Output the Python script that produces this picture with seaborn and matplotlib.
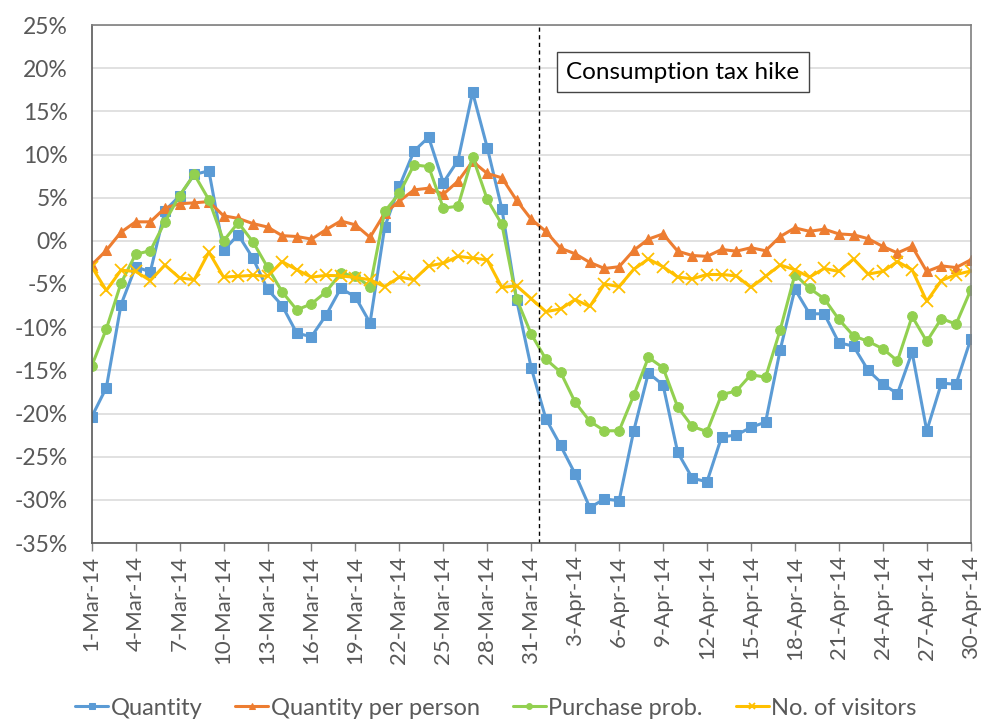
import numpy as np
import pandas as pd
import matplotlib
matplotlib.use("Agg")
import matplotlib.pyplot as plt
import seaborn as sns

# ---- data -------------------------------------------------------------
dates = pd.date_range("2014-03-01", "2014-04-30", freq="D")
date_labels = [f"{d.day}-{d.strftime('%b')}-14" for d in dates]

quantity = [-20.4, -17.0, -7.4, -3.0, -3.6, 3.5, 5.2, 7.7, 8.1, -1.1,
            0.7, -2.0, -5.6, -7.5, -10.7, -11.1, -8.6, -5.5, -6.5, -9.5,
            1.6, 6.3, 10.4, 12.0, 6.75, 9.3, 17.2, 10.8, 3.7, -6.8,
            -14.7, -20.6, -23.7, -27.0, -30.9, -29.9, -30.1, -22.0, -15.3, -16.7,
            -24.5, -27.5, -27.9, -22.7, -22.5, -21.6, -21.0, -12.6, -5.6, -8.45,
            -8.45, -11.8, -12.2, -15.0, -16.6, -17.7, -12.9, -22.0, -16.5, -16.6,
            -11.4]
qty_per_person = [-2.8, -1.1, 1.0, 2.2, 2.2, 3.8, 4.3, 4.4, 4.55, 2.9,
                  2.6, 2.0, 1.6, 0.6, 0.5, 0.2, 1.3, 2.3, 1.85, 0.4,
                  3.2, 4.6, 5.9, 6.1, 5.4, 6.9, 9.2, 7.8, 7.3, 4.7,
                  2.5, 1.1, -0.85, -1.5, -2.5, -3.2, -3.0, -1.1, 0.2, 0.8,
                  -1.2, -1.7, -1.8, -1.0, -1.2, -0.8, -1.15, 0.5, 1.5, 1.1,
                  1.35, 0.8, 0.7, 0.25, -0.65, -1.4, -0.65, -3.55, -2.9, -3.1,
                  -2.2]
purchase_prob = [-14.5, -10.2, -4.9, -1.55, -1.15, 2.2, 5.25, 7.7, 4.75, 0.0,
                 2.1, -0.1, -3.05, -5.9, -8.0, -7.3, -5.9, -3.75, -4.1, -5.3,
                 3.4, 5.5, 8.8, 8.6, 3.8, 4.0, 9.75, 4.8, 1.9, -6.7,
                 -10.8, -13.7, -15.2, -18.7, -20.9, -22.0, -22.0, -17.9, -13.5, -14.7,
                 -19.25, -21.5, -22.1, -17.8, -17.4, -15.5, -15.8, -10.3, -3.9, -5.5,
                 -6.7, -9.1, -11.0, -11.65, -12.5, -13.9, -8.75, -11.65, -9.0, -9.65,
                 -5.7]
visitors = [-3.0, -5.75, -3.4, -3.55, -4.6, -2.8, -4.3, -4.5, -1.3, -4.2,
            -4.1, -4.0, -4.1, -2.4, -3.35, -4.2, -4.0, -4.05, -4.25, -4.5,
            -5.3, -4.2, -4.5, -2.9, -2.6, -1.8, -2.0, -2.2, -5.4, -5.2,
            -6.7, -8.2, -7.9, -6.8, -7.6, -5.0, -5.3, -3.3, -2.1, -3.0,
            -4.2, -4.4, -3.9, -3.9, -4.05, -5.4, -4.1, -2.8, -3.35, -4.2,
            -3.2, -3.55, -2.1, -3.85, -3.55, -2.4, -3.35, -7.0, -4.6, -3.9,
            -3.5]

series_names = ["Quantity", "Quantity per person", "Purchase prob.", "No. of visitors"]
series_values = [quantity, qty_per_person, purchase_prob, visitors]
series_colors = ["#5B9BD5", "#ED7D31", "#92D050", "#FFC000"]
series_markers = ["s", "^", "o", "x"]

y_ticks = list(range(-35, 26, 5))
annotation = "Consumption tax hike"
event_index = 30.5  # between 31-Mar and 1-Apr

# ---- plot -------------------------------------------------------------
sns.set_theme(style="white")
plt.rcParams["font.family"] = ["Lato", "DejaVu Sans"]

fig = plt.figure(figsize=(9.82, 7.21), dpi=100)
ax = fig.add_axes([91.7 / 982, 1 - 543 / 721, (970.7 - 91.7) / 982, (543 - 25) / 721])

day_idx = np.arange(len(dates))
for name, vals, col, mk in zip(series_names, series_values, series_colors, series_markers):
    kw = dict(marker=mk, markersize=7, markeredgecolor=col, markerfacecolor=col)
    if mk == "x":
        kw.update(markersize=8, markeredgewidth=1.3)
    sns.lineplot(x=day_idx, y=vals, ax=ax, color=col, linewidth=2.2, label=name,
                 legend=False, **kw)

ax.set_xlim(0, len(dates) - 1)
ax.set_ylim(-35, 25)
ax.set_yticks(y_ticks)
ax.set_yticklabels([f"{v}%" for v in y_ticks], fontsize=16.5, color="#595959")
ax.set_xticks(day_idx[::3])
ax.set_xticklabels(date_labels[::3], rotation=90, fontsize=16, color="#595959")
ax.tick_params(axis="x", which="both", direction="out", length=6, width=1,
               color="#7f7f7f", bottom=True, pad=3)
ax.tick_params(axis="y", length=0, pad=17)

ax.yaxis.grid(True, color="#d9d9d9", linewidth=1.1)
ax.xaxis.grid(False)
ax.set_axisbelow(True)
for s in ax.spines.values():
    s.set_visible(True)
    s.set_color("#7f7f7f")
    s.set_linewidth(1.2)
ax.spines["left"].set_color("#595959")
ax.spines["bottom"].set_color("#595959")

ax.axvline(event_index, color="black", linestyle=(0, (3, 2.5)), linewidth=1)

ax.text(40.36, 19.55, annotation, ha="center", va="center", fontsize=17.5, color="black",
        bbox=dict(boxstyle="square,pad=0.4", facecolor="white", edgecolor="#444444",
                  linewidth=1))

handles, labels = ax.get_legend_handles_labels()
fig.legend(handles, labels, loc="center", bbox_to_anchor=(0.505, 0.018), ncol=4,
           frameon=False, fontsize=17, handlelength=1.4, handletextpad=0.1,
           columnspacing=1.4, markerscale=0.6, labelcolor="#595959")

fig.savefig("out.png", dpi=100, facecolor="white")
